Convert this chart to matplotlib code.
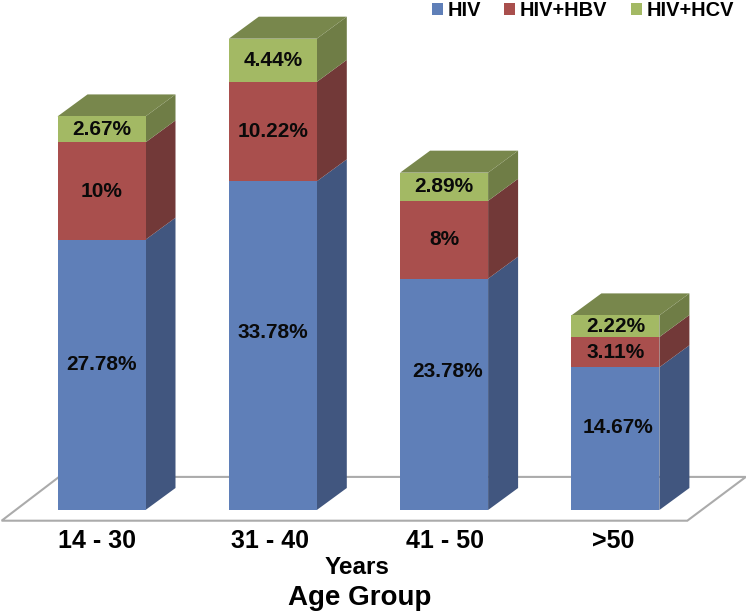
import matplotlib
matplotlib.use("Agg")
import matplotlib.pyplot as plt
from matplotlib.patches import Polygon, Patch
from matplotlib.transforms import ScaledTranslation
import numpy as np

plt.rcParams['font.family'] = ['Liberation Sans', 'DejaVu Sans']
plt.rcParams['font.weight'] = 'bold'

categories = ["14 - 30", "31 - 40", "41 - 50", ">50"]
hiv = [27.78, 33.78, 23.78, 14.67]
hiv_hbv = [10, 10.22, 8, 3.11]
hiv_hcv = [2.67, 4.44, 2.89, 2.22]
series_names = ["HIV", "HIV+HBV", "HIV+HCV"]
series_values = [hiv, hiv_hbv, hiv_hcv]
front_colors = ["#5F7FB8", "#A94F4D", "#A3B964"]
side_colors = ["#41567F", "#723938", "#6F7D46"]
top_color = "#78874C"
floor_color = "#ABABAB"

W, H = 746, 615
PX_X = 171.3          # pixels per category step
PX_Y = 9.73           # pixels per percent
X0 = 101.5            # pixel of the first category
Y0 = 510              # pixel row of the zero line
BAR_W = 88 / PX_X
DX = 30 / PX_X
DY = 22 / PX_Y

# label placement (layout only): fraction of each segment, and pixel nudges
blue_label_frac = [0.537, 0.54, 0.6, 0.575]
blue_label_dx = [0, 0, 3, 3]
tick_label_dx = [-5, -3, 1, -2]

fig = plt.figure(figsize=(W / 100, H / 100), dpi=100, facecolor="white")
ax = fig.add_axes([0, (H - Y0) / H, 1, Y0 / H])
ax.set_xlim(-X0 / PX_X, (W - X0) / PX_X)
ax.set_ylim(0, Y0 / PX_Y)
for s in ax.spines.values():
    s.set_visible(False)
ax.yaxis.set_visible(False)
ax.patch.set_visible(False)

x = np.arange(len(categories))

# floor
lx, rx = x[0] - BAR_W / 2, x[-1] + BAR_W / 2
floor = [(lx - 1.62 * DX * 1.15, -1.1), (rx + 0.93 * DX, -1.1),
         (rx + 0.93 * DX + 1.95 * DX, 3.4), (lx + 0.05 * DX, 3.4)]
ax.add_patch(Polygon(floor, closed=True, fill=False, edgecolor=floor_color,
                     linewidth=1.5, clip_on=False, zorder=1))

# bars
bottom = np.zeros(len(categories))
for k, (vals, fc, sc) in enumerate(zip(series_values, front_colors, side_colors)):
    vals = np.array(vals, dtype=float)
    ax.bar(x, vals, BAR_W, bottom=bottom, color=fc, linewidth=0, zorder=3)
    for i, (xi, b, v) in enumerate(zip(x, bottom, vals)):
        r = xi + BAR_W / 2
        ax.add_patch(Polygon([(r, b), (r + DX, b + DY), (r + DX, b + v + DY), (r, b + v)],
                             closed=True, facecolor=sc, edgecolor="none", zorder=2))
        frac = blue_label_frac[i] if k == 0 else 0.5
        nudge = blue_label_dx[i] / PX_X if k == 0 else 0
        ax.text(xi + nudge, b + v * frac, f"{v:g}%", ha="center", va="center",
                fontsize=15, color="#0a0a0a", zorder=5)
    bottom = bottom + vals

for xi, t in zip(x, bottom):
    l, r = xi - BAR_W / 2, xi + BAR_W / 2
    ax.add_patch(Polygon([(l, t), (r, t), (r + DX, t + DY), (l + DX, t + DY)],
                         closed=True, facecolor=top_color, edgecolor="none", zorder=2))

ax.set_xticks(x, categories, fontsize=18, color="black", fontweight="bold")
ax.tick_params(axis="x", length=0, pad=14)
for lab, d in zip(ax.get_xticklabels(), tick_label_dx):
    lab.set_transform(lab.get_transform() + ScaledTranslation(d / 100, 0, fig.dpi_scale_trans))
ax.set_xlabel("Years", fontsize=17.5, labelpad=2, color="black", fontweight="bold",
              x=357 / W)
fig.text(360 / W, 1 - 598 / H, "Age Group", ha="center", va="center",
         fontsize=20, color="black", fontweight="bold")

handles = [Patch(facecolor=c, edgecolor="none") for c in front_colors]
ax.legend(handles, series_names, ncols=3, loc="upper right",
          bbox_to_anchor=(735 / W, 1.0), bbox_transform=fig.transFigure, frameon=False,
          fontsize=14.4, handlelength=0.55, handleheight=0.55, handletextpad=0.25,
          columnspacing=1.15, borderpad=0.0, borderaxespad=0.05)

fig.savefig("out.png", dpi=100, facecolor="white")
